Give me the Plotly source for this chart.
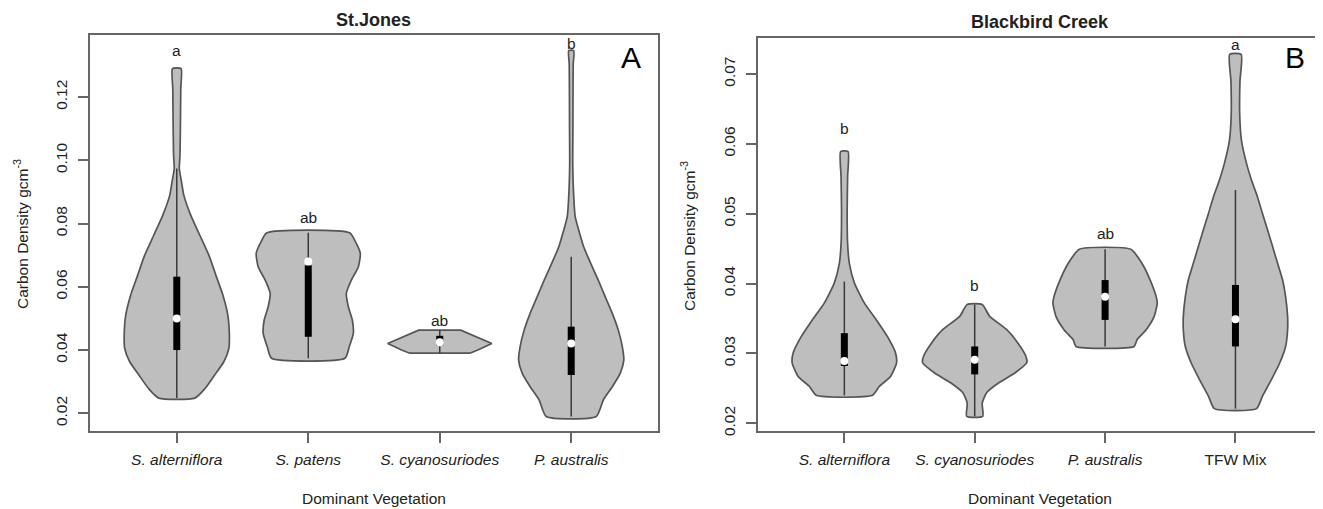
import plotly.graph_objects as go

# ---------------- Panel A : St.Jones ----------------
cats_a = ["<i>S. alterniflora</i>", "<i>S. patens</i>", "<i>S. cyanosuriodes</i>", "<i>P. australis</i>"]
letters_a = ["a", "ab", "ab", "b"]
letter_y_a = [0.1347, 0.0820, 0.0495, 0.1370]
yticks_a = [0.02, 0.04, 0.06, 0.08, 0.10, 0.12]

# density profiles (level, relative half-width), top -> bottom
a1_lvl = [0.1290, 0.1227, 0.1121, 0.1016, 0.0974, 0.0932, 0.0890, 0.0826, 0.0763, 0.0700,
          0.0637, 0.0574, 0.0510, 0.0447, 0.0405, 0.0363, 0.0321, 0.0279, 0.0248]
a1_den = [0.082, 0.076, 0.070, 0.061, 0.048, 0.090, 0.133, 0.267, 0.438, 0.610,
          0.743, 0.876, 0.971, 1.000, 0.990, 0.895, 0.720, 0.540, 0.343]
a2_lvl = [0.0771, 0.0737, 0.0705, 0.0663, 0.0621, 0.0579, 0.0537, 0.0495, 0.0453, 0.0411, 0.0374]
a2_den = [0.787, 0.914, 0.990, 0.952, 0.819, 0.724, 0.762, 0.838, 0.857, 0.781, 0.699]
a3_lvl = [0.0463, 0.0442, 0.0421, 0.0400, 0.0390]
a3_den = [0.400, 0.686, 0.990, 0.724, 0.571]
a4_lvl = [0.1347, 0.1305, 0.1200, 0.1095, 0.0990, 0.0884, 0.0821, 0.0779, 0.0726, 0.0674,
          0.0621, 0.0568, 0.0516, 0.0463, 0.0411, 0.0368, 0.0327, 0.0284, 0.0242, 0.0190]
a4_den = [0.048, 0.038, 0.034, 0.032, 0.029, 0.048, 0.076, 0.143, 0.238, 0.371,
          0.514, 0.648, 0.781, 0.895, 0.971, 1.000, 0.933, 0.781, 0.610, 0.476]

# box statistics
lo_a = [0.0248, 0.0374, 0.0390, 0.0190]
q1_a = [0.0400, 0.0442, 0.0415, 0.0321]
med_a = [0.0500, 0.0680, 0.0425, 0.0421]
q3_a = [0.0632, 0.0668, 0.0445, 0.0474]
hi_a = [0.0974, 0.0771, 0.0463, 0.0695]

# ---------------- Panel B : Blackbird Creek ----------------
cats_b = ["<i>S. alterniflora</i>", "<i>S. cyanosuriodes</i>", "<i>P. australis</i>", "TFW Mix"]
letters_b = ["b", "b", "ab", "a"]
letter_y_b = [0.0622, 0.0397, 0.0472, 0.0742]
yticks_b = [0.02, 0.03, 0.04, 0.05, 0.06, 0.07]

b1_lvl = [0.0589, 0.0553, 0.0505, 0.0458, 0.0429, 0.0401, 0.0372, 0.0348, 0.0324, 0.0301,
          0.0286, 0.0267, 0.0253, 0.0240]
b1_den = [0.071, 0.063, 0.054, 0.062, 0.096, 0.192, 0.385, 0.615, 0.827, 0.981,
          1.000, 0.885, 0.673, 0.538]
b2_lvl = [0.0370, 0.0353, 0.0334, 0.0315, 0.0296, 0.0287, 0.0272, 0.0258, 0.0244, 0.0229, 0.0210]
b2_den = [0.144, 0.288, 0.615, 0.827, 0.981, 1.000, 0.769, 0.462, 0.231, 0.144, 0.154]
b3_lvl = [0.0449, 0.0429, 0.0405, 0.0381, 0.0372, 0.0353, 0.0334, 0.0320, 0.0310]
b3_den = [0.496, 0.706, 0.865, 0.981, 1.000, 0.942, 0.788, 0.615, 0.558]
b4_lvl = [0.0728, 0.0690, 0.0643, 0.0605, 0.0572, 0.0548, 0.0524, 0.0500, 0.0477, 0.0453,
          0.0429, 0.0405, 0.0381, 0.0353, 0.0334, 0.0310, 0.0286, 0.0263, 0.0239, 0.0221]
b4_den = [0.110, 0.087, 0.081, 0.115, 0.212, 0.308, 0.423, 0.519, 0.615, 0.712,
          0.808, 0.904, 0.962, 1.000, 1.000, 0.962, 0.846, 0.692, 0.519, 0.404]

lo_b = [0.0240, 0.0210, 0.0310, 0.0221]
q1_b = [0.0282, 0.0270, 0.0348, 0.0310]
med_b = [0.0289, 0.0291, 0.0381, 0.0349]
q3_b = [0.0329, 0.0310, 0.0405, 0.0398]
hi_b = [0.0403, 0.0370, 0.0449, 0.0534]

# ---------------- styling ----------------
FONT = "Liberation Sans, Arial, sans-serif"
FILL = "#bebebe"
EDGE = "#555555"
FRAME = "#666666"
TXT = "#222222"
HALF = 0.40
OFF = 8                      # page body margin in the browser
W, H = 1323 - OFF, 509 - OFF

fig = go.Figure()


def add_violin(xa, ya, xc, lvl, den, lo, q1, med, q3, hi, shape="spline"):
    ys = list(reversed(lvl)) + list(lvl)
    xs = [xc + d * HALF for d in reversed(den)] + [xc - d * HALF for d in den]
    xs.append(xs[0])
    ys.append(ys[0])
    line = dict(color=EDGE, width=1.7, shape=shape)
    if shape == "spline":
        line["smoothing"] = 0.55
    fig.add_trace(go.Scatter(x=xs, y=ys, mode="lines", fill="toself", fillcolor=FILL,
                             line=line, xaxis=xa, yaxis=ya, hoverinfo="skip", showlegend=False))
    fig.add_trace(go.Scatter(x=[xc, xc], y=[lo, hi], mode="lines",
                             line=dict(color="#3a3a3a", width=1.5),
                             xaxis=xa, yaxis=ya, hoverinfo="skip", showlegend=False))
    fig.add_trace(go.Scatter(x=[xc, xc], y=[q1, q3], mode="lines",
                             line=dict(color="black", width=7),
                             xaxis=xa, yaxis=ya, hoverinfo="skip", showlegend=False))
    fig.add_trace(go.Scatter(x=[xc], y=[med], mode="markers",
                             marker=dict(color="white", size=8, line=dict(width=0)),
                             xaxis=xa, yaxis=ya, hoverinfo="skip", showlegend=False))


prof_a = [(a1_lvl, a1_den, "spline"), (a2_lvl, a2_den, "spline"),
          (a3_lvl, a3_den, "linear"), (a4_lvl, a4_den, "spline")]
for i, (lv, dn, sh) in enumerate(prof_a):
    add_violin("x", "y", i + 1, lv, dn, lo_a[i], q1_a[i], med_a[i], q3_a[i], hi_a[i], sh)

prof_b = [(b1_lvl, b1_den), (b2_lvl, b2_den), (b3_lvl, b3_den), (b4_lvl, b4_den)]
for i, (lv, dn) in enumerate(prof_b):
    add_violin("x2", "y2", i + 1, lv, dn, lo_b[i], q1_b[i], med_b[i], q3_b[i], hi_b[i])

annotations = []
for i, t in enumerate(letters_a):
    annotations.append(dict(x=i + 1, y=letter_y_a[i], xref="x", yref="y", text=t, showarrow=False,
                            font=dict(family=FONT, size=15.5, color=TXT), yanchor="middle"))
for i, t in enumerate(letters_b):
    annotations.append(dict(x=i + 1, y=letter_y_b[i], xref="x2", yref="y2", text=t, showarrow=False,
                            font=dict(family=FONT, size=15.5, color=TXT), yanchor="middle"))


def px(xp):
    return (xp - OFF) / W


def py(yp):
    return 1 - (yp - OFF) / H


# titles, panel letters, axis titles
annotations += [
    dict(x=px(373.5), y=py(20), xref="paper", yref="paper", text="<b>St.Jones</b>", showarrow=False,
         font=dict(family=FONT, size=18, color=TXT), xanchor="center", yanchor="middle"),
    dict(x=px(1040), y=py(21.5), xref="paper", yref="paper", text="<b>Blackbird Creek</b>", showarrow=False,
         font=dict(family=FONT, size=18, color=TXT), xanchor="center", yanchor="middle"),
    dict(x=px(631), y=py(58), xref="paper", yref="paper", text="A", showarrow=False,
         font=dict(family=FONT, size=30, color="black"), xanchor="center", yanchor="middle"),
    dict(x=px(1295), y=py(58), xref="paper", yref="paper", text="B", showarrow=False,
         font=dict(family=FONT, size=30, color="black"), xanchor="center", yanchor="middle"),
    dict(x=px(373.5), y=py(498), xref="paper", yref="paper", text="Dominant Vegetation", showarrow=False,
         font=dict(family=FONT, size=15.5, color=TXT), xanchor="center", yanchor="middle"),
    dict(x=px(1040), y=py(498), xref="paper", yref="paper", text="Dominant Vegetation", showarrow=False,
         font=dict(family=FONT, size=15.5, color=TXT), xanchor="center", yanchor="middle"),
    dict(x=px(21), y=py(234), xref="paper", yref="paper", text="Carbon Density gcm<sup>-3</sup>",
         showarrow=False, textangle=-90, font=dict(family=FONT, size=15.5, color=TXT),
         xanchor="center", yanchor="middle"),
    dict(x=px(688), y=py(236), xref="paper", yref="paper", text="Carbon Density gcm<sup>-3</sup>",
         showarrow=False, textangle=-90, font=dict(family=FONT, size=15.5, color=TXT),
         xanchor="center", yanchor="middle"),
]

axis_common = dict(showline=True, mirror=True, linecolor=FRAME, linewidth=1.7,
                   ticks="outside", ticklen=10, tickwidth=1.5, tickcolor=FRAME,
                   showgrid=False, zeroline=False, automargin=False,
                   tickfont=dict(family=FONT, size=15.5, color=TXT))

fig.update_layout(
    width=W, height=H,
    margin=dict(l=0, r=0, t=0, b=0),
    paper_bgcolor="white", plot_bgcolor="white",
    annotations=annotations,
    xaxis=dict(axis_common, domain=[px(90), px(658)], range=[0.34, 4.66],
               tickvals=[1, 2, 3, 4], ticktext=cats_a, anchor="y", ticklabelstandoff=4),
    yaxis=dict(axis_common, domain=[py(431), py(34.8)], range=[0.0144, 0.1397],
               tickvals=yticks_a, ticktext=[f"{v:.2f}" for v in yticks_a], tickangle=-90,
               anchor="x", ticklabelstandoff=5),
    xaxis2=dict(axis_common, domain=[px(758.3), px(1321.5)], range=[0.34, 4.66],
                tickvals=[1, 2, 3, 4], ticktext=cats_b, anchor="y2", ticklabelstandoff=4),
    yaxis2=dict(axis_common, domain=[py(431), py(38.3)], range=[0.0189, 0.0751],
                tickvals=yticks_b, ticktext=[f"{v:.2f}" for v in yticks_b], tickangle=-90,
                anchor="x2", ticklabelstandoff=5),
)

fig.write_html("out.html")
